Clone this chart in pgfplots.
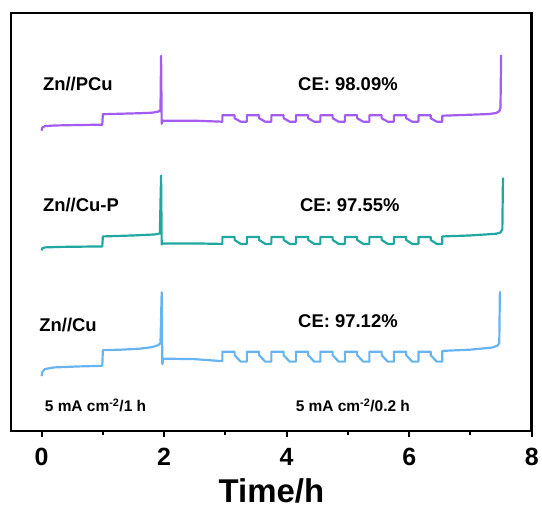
\documentclass[border=0pt]{standalone}
\usepackage{pgfplots}
\pgfplotsset{compat=1.18}
\usepackage{fontspec}
\setmainfont{Liberation Sans}

\definecolor{cPCu}{RGB}{162,92,240}
\definecolor{cCuP}{RGB}{32,168,160}
\definecolor{cCu}{RGB}{104,180,240}

\begin{document}
\begin{tikzpicture}
\path (-11pt,-78pt) rectangle (531pt,432pt);
\begin{axis}[
  at={(0pt,0pt)}, anchor=south west,
  scale only axis, width=522pt, height=419pt,
  xmin=-0.5, xmax=8, ymin=-432, ymax=-13,
  clip=false,
  axis line style={line width=2.6pt},
  xtick={0,2,4,6,8}, minor xtick={1,3,5,7},
  ytick=\empty,
  xtick pos=bottom, tick align=outside,
  major tick length=6pt, minor tick length=4pt,
  every tick/.style={black, line width=2pt},
  /pgf/number format/assume math mode=true,
  xticklabel style={font=\fontsize{25}{30}\selectfont\bfseries, yshift=-8pt},
  xlabel={Time/h},
  xlabel style={font=\fontsize{33}{40}\selectfont\bfseries, yshift=-6pt},
  every axis plot/.append style={line width=2.2pt, line join=round},
]
% Zn//PCu
\addplot[cPCu] coordinates {
(0,-131)(0.01,-128)(0.05,-126.5)(0.2,-125.8)(0.6,-125.3)(0.99,-125)
(1.0,-114.5)(1.3,-114)(1.6,-113.5)(1.8,-113)(1.9,-112)(1.94,-110.5)
(1.95,-56)(1.96,-124)(1.98,-121)(2.5,-121)(2.95,-122)
(2.95,-115.5)(3.15,-115.5)(3.15,-118.5)(3.25,-122)
(3.35,-122)(3.35,-115.5)(3.55,-115.5)(3.55,-118.5)(3.65,-122)
(3.75,-122)(3.75,-115.5)(3.95,-115.5)(3.95,-118.5)(4.05,-122)
(4.15,-122)(4.15,-115.5)(4.35,-115.5)(4.35,-118.5)(4.45,-122)
(4.55,-122)(4.55,-115.5)(4.75,-115.5)(4.75,-118.5)(4.85,-122)
(4.95,-122)(4.95,-115.5)(5.15,-115.5)(5.15,-118.5)(5.25,-122)
(5.35,-122)(5.35,-115.5)(5.55,-115.5)(5.55,-118.5)(5.65,-122)
(5.75,-122)(5.75,-115.5)(5.95,-115.5)(5.95,-118.5)(6.05,-122)
(6.15,-122)(6.15,-115.5)(6.35,-115.5)(6.35,-118.5)(6.45,-122)
(6.54,-122)(6.54,-116)(7.0,-115)(7.3,-114.3)(7.42,-113.3)(7.47,-111.5)(7.49,-108)(7.5,-55)
};
% Zn//Cu-P
\addplot[cCuP] coordinates {
(0,-251)(0.01,-249)(0.05,-248)(0.3,-247.5)(0.99,-247)
(1.0,-237)(1.5,-236)(1.85,-235)(1.93,-234)
(1.95,-176)(1.96,-245)(1.98,-244)(2.5,-244)(2.95,-244.5)
(2.95,-237.5)(3.15,-237.5)(3.15,-240.5)(3.25,-244.5)
(3.35,-244.5)(3.35,-237.5)(3.55,-237.5)(3.55,-240.5)(3.65,-244.5)
(3.75,-244.5)(3.75,-237.5)(3.95,-237.5)(3.95,-240.5)(4.05,-244.5)
(4.15,-244.5)(4.15,-237.5)(4.35,-237.5)(4.35,-240.5)(4.45,-244.5)
(4.55,-244.5)(4.55,-237.5)(4.75,-237.5)(4.75,-240.5)(4.85,-244.5)
(4.95,-244.5)(4.95,-237.5)(5.15,-237.5)(5.15,-240.5)(5.25,-244.5)
(5.35,-244.5)(5.35,-237.5)(5.55,-237.5)(5.55,-240.5)(5.65,-244.5)
(5.75,-244.5)(5.75,-237.5)(5.95,-237.5)(5.95,-240.5)(6.05,-244.5)
(6.15,-244.5)(6.15,-237.5)(6.35,-237.5)(6.35,-240.5)(6.45,-244.5)
(6.54,-244.5)(6.54,-237)(7.0,-236)(7.42,-234.3)(7.49,-233)(7.52,-230)(7.53,-178)
};
% Zn//Cu
\addplot[cCu] coordinates {
(0,-377)(0.01,-373)(0.05,-370)(0.2,-368.3)(0.6,-367.3)(0.99,-366.7)
(1.0,-351)(1.3,-350.5)(1.6,-349.5)(1.8,-348)(1.9,-346)(1.94,-344)
(1.96,-293)(1.97,-365)(1.99,-359.5)(2.5,-360)(2.95,-362)
(2.95,-352.5)(3.15,-352.5)(3.15,-356)(3.25,-362.5)
(3.35,-362.5)(3.35,-352.5)(3.55,-352.5)(3.55,-356)(3.65,-362.5)
(3.75,-362.5)(3.75,-352.5)(3.95,-352.5)(3.95,-356)(4.05,-362.5)
(4.15,-362.5)(4.15,-352.5)(4.35,-352.5)(4.35,-356)(4.45,-362.5)
(4.55,-362.5)(4.55,-352.5)(4.75,-352.5)(4.75,-356)(4.85,-362.5)
(4.95,-362.5)(4.95,-352.5)(5.15,-352.5)(5.15,-356)(5.25,-362.5)
(5.35,-362.5)(5.35,-352.5)(5.55,-352.5)(5.55,-356)(5.65,-362.5)
(5.75,-362.5)(5.75,-352.5)(5.95,-352.5)(5.95,-356)(6.05,-362.5)
(6.15,-362.5)(6.15,-352.5)(6.35,-352.5)(6.35,-356)(6.45,-362.5)
(6.54,-362.5)(6.54,-351.7)(7.0,-350.5)(7.36,-348.3)(7.44,-346.5)(7.47,-344)(7.48,-292)
};

\begin{scope}[every node/.style={font=\fontsize{18.5}{22}\selectfont\bfseries, inner sep=0pt}]
\node[anchor=west] at (axis cs:0.02,-84) {Zn//PCu};
\node[anchor=west] at (axis cs:0.02,-205) {Zn//Cu-P};
\node[anchor=west] at (axis cs:-0.04,-326) {Zn//Cu};
\node at (axis cs:5.0,-84) {CE: 98.09\%};
\node at (axis cs:5.03,-206) {CE: 97.55\%};
\node at (axis cs:5.0,-322) {CE: 97.12\%};
\end{scope}
\begin{scope}[every node/.style={font=\fontsize{15.5}{19}\selectfont\bfseries, inner sep=0pt}]
\node[anchor=west] at (axis cs:0.05,-406) {5 mA cm\textsuperscript{-2}/1 h};
\node at (axis cs:5.08,-406) {5 mA cm\textsuperscript{-2}/0.2 h};
\end{scope}
\end{axis}
\end{tikzpicture}
\end{document}
